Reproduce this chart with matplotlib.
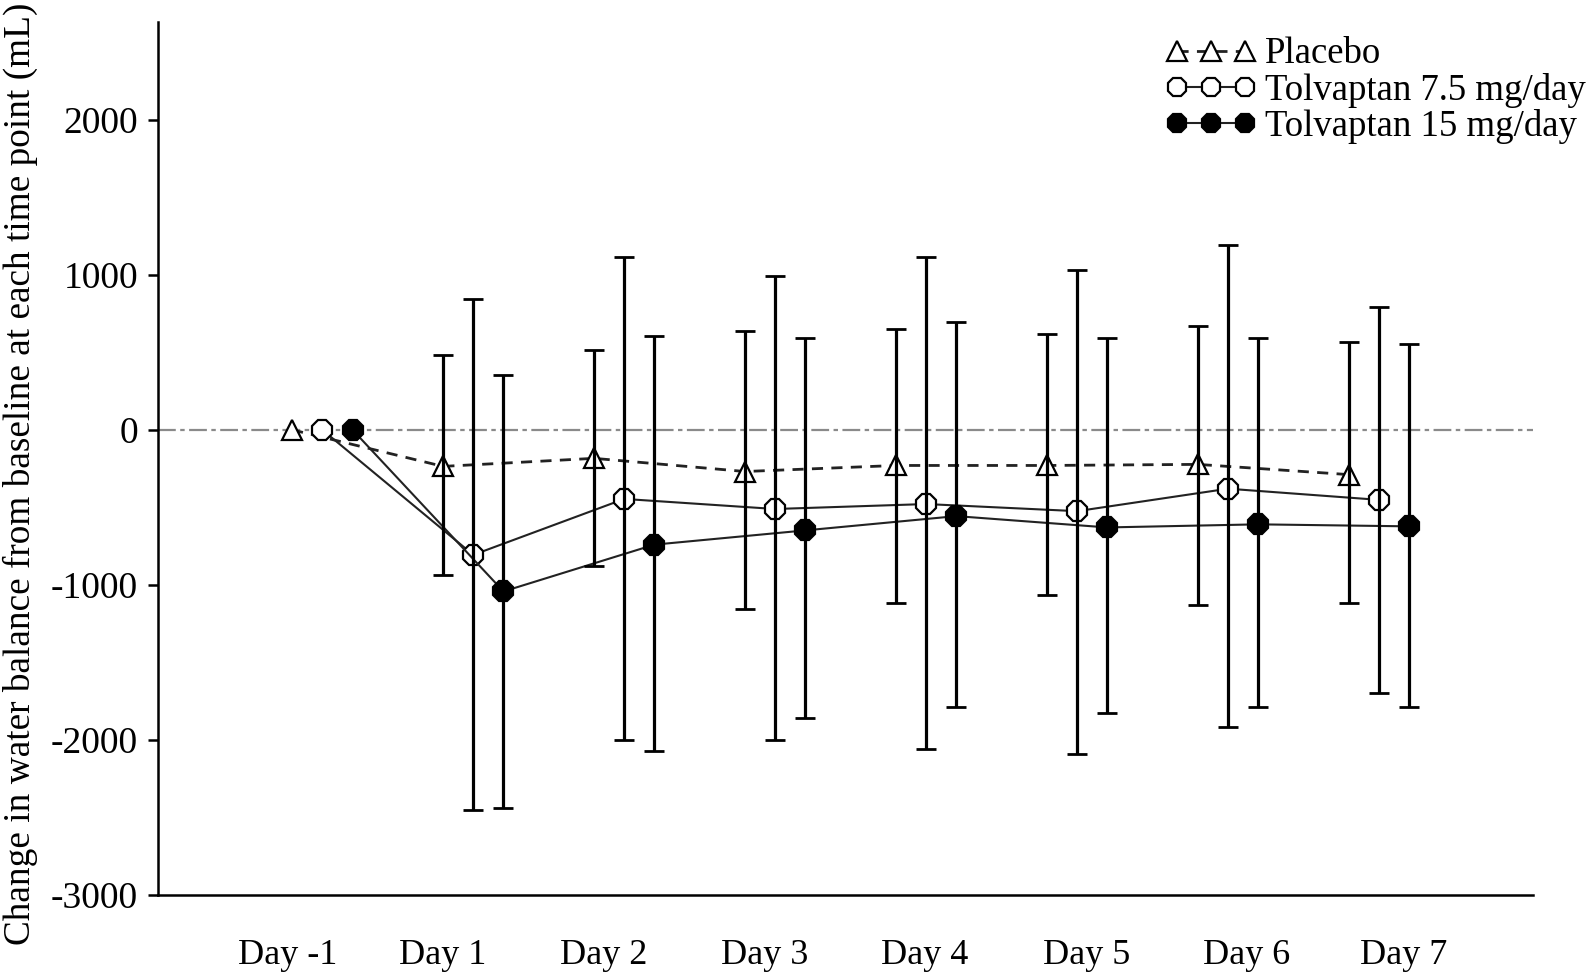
import numpy as np
import matplotlib
matplotlib.use("Agg")
import matplotlib.pyplot as plt

plt.rcParams["font.family"] = ["Liberation Serif", "DejaVu Serif"]

# data (mL)
days = ["Day -1", "Day 1", "Day 2", "Day 3", "Day 4", "Day 5", "Day 6", "Day 7"]
yticks = [-3000, -2000, -1000, 0, 1000, 2000]

placebo_mean = [0, -236, -184, -269, -230, -230, -223, -289]
placebo_hi = [0, 485, 518, 636, 649, 616, 669, 564]
placebo_lo = [0, -938, -879, -1154, -1115, -1069, -1128, -1115]

tol75_mean = [0, -807, -446, -511, -479, -525, -380, -452]
tol75_hi = [0, 846, 1115, 990, 1115, 1030, 1193, 793]
tol75_lo = [0, -2452, -2000, -2000, -2059, -2092, -1915, -1698]

tol15_mean = [0, -1043, -741, -649, -557, -630, -610, -623]
tol15_hi = [0, 354, 603, 590, 695, 590, 590, 557]
tol15_lo = [0, -2439, -2072, -1862, -1790, -1830, -1790, -1790]

# label positions drift a little relative to the point groups in the original
label_pos = [-0.23, 0.795, 1.865, 2.93, 3.99, 5.06, 6.12, 7.16]

fig = plt.figure(figsize=(15.94, 9.72), dpi=100)
ax = fig.add_axes([0.0989, 0.0796, 0.8628, 0.8974])

idx = np.arange(len(days))
series = [
    ("Placebo", idx - 0.2, placebo_mean, placebo_lo, placebo_hi, "^", "white", (0, (4, 3)), 2.0),
    ("Tolvaptan 7.5 mg/day", idx, tol75_mean, tol75_lo, tol75_hi, "8", "white", "-", 1.5),
    ("Tolvaptan 15 mg/day", idx + 0.2, tol15_mean, tol15_lo, tol15_hi, "8", "black", "-", 1.5),
]

ax.axhline(0, color="#8a8a8a", lw=1.6, ls=(0, (8, 2, 2, 2)), zorder=1)

handles = []
for name, x, m, lo, hi, mk, fc, ls, lw in series:
    m = np.array(m, float)
    lo = np.array(lo, float)
    hi = np.array(hi, float)
    h, = ax.plot(x, m, color="#222222", ls=ls, lw=lw, marker=mk, ms=15,
                 mfc=fc, mec="black", mew=1.6, zorder=3, label=name)
    handles.append(h)
    # error bars from Day 1 on, drawn over the markers
    ax.errorbar(x[1:], m[1:], yerr=[m[1:] - lo[1:], hi[1:] - m[1:]], fmt="none",
                ecolor="black", elinewidth=2.3, capsize=7, capthick=2.0, zorder=4)

ax.set_xlim(-1.091, 8.02)
ax.set_ylim(-3000, 2630)
ax.set_yticks(yticks)
ax.set_yticklabels([str(v) for v in yticks])
ax.set_xticks(label_pos)
ax.set_xticklabels(days)
ax.tick_params(axis="x", length=0, pad=32, labelsize=26)
ax.tick_params(axis="y", length=7, width=1.8, pad=7, labelsize=27)
for s in ["top", "right"]:
    ax.spines[s].set_visible(False)
for s in ["left", "bottom"]:
    ax.spines[s].set_linewidth(1.8)

ax.set_ylabel("Change in water balance from baseline at each time point (mL)", fontsize=26.8)
ax.yaxis.set_label_coords(-0.087, 0.483)

fig.legend(handles=handles, loc="upper left", bbox_to_anchor=(0.7315, 0.962),
           frameon=False, fontsize=26.5, numpoints=3, handlelength=2.45,
           handletextpad=0.25, labelspacing=0.04, borderpad=0, borderaxespad=0,
           markerscale=0.95)

fig.savefig("out.png", dpi=100)
